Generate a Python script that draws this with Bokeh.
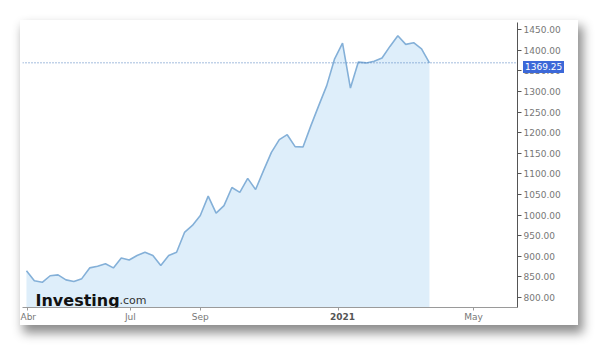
import pandas as pd
from bokeh.plotting import figure
from bokeh.layouts import column
from bokeh.models import (Range1d, FixedTicker, Span, Label, Div,
                          NumeralTickFormatter)
from bokeh.embed import file_html
from bokeh.resources import INLINE

# ---- data (weekly closes) ----
start_date = "2020-03-31"
values = [865, 841, 837, 853, 855, 843, 839, 846, 872, 876,
          882, 872, 896, 891, 902, 910, 902, 878, 902, 910,
          958, 975, 999, 1046, 1005, 1023, 1067, 1055, 1089, 1062,
          1108, 1152, 1183, 1195, 1166, 1165, 1217, 1266, 1314, 1379,
          1417, 1308, 1371, 1369, 1373, 1381, 1409, 1435, 1414, 1418,
          1403, 1369.25]
dates = pd.date_range(start_date, periods=len(values), freq="7D")
last_value = values[-1]

x_tick_dates = ["2020-04-01", "2020-07-01", "2020-09-01", "2021-01-01", "2021-05-01"]
x_tick_labels = ["Abr", "Jul", "Sep", "", "May"]
year_label_date = "2021-01-01"
year_label = "2021"
y_ticks = [800, 850, 900, 950, 1000, 1050, 1100, 1150, 1200, 1250,
           1300, 1350, 1400, 1450]

def ms(d):
    return pd.Timestamp(d).value / 1e6

# layout geometry
OFF_X, OFF_Y = 20, 20          # card offset in the page
W, H = 558, 305                # card size
BL, BT, BR, BB = 2, 2, 61, 18  # borders around the frame
FW, FH = W - BL - BR, H - BT - BB

x0, x1 = ms("2020-03-27 12:00"), ms("2021-06-09")
y0, y1 = 776, 1467

p = figure(width=W, height=H, x_axis_type="datetime",
           x_range=Range1d(x0, x1), y_range=Range1d(y0, y1),
           y_axis_location="right",
           output_backend="svg", toolbar_location=None,
           min_border_left=BL, min_border_top=BT, min_border_right=BR,
           min_border_bottom=BB, margin=(OFF_Y, 0, 0, OFF_X))
p.styles = {"box-shadow": "4px 7px 10px 1px rgba(0,0,0,0.45)",
            "background": "white"}
p.xgrid.visible = False
p.ygrid.visible = False
p.outline_line_color = None
p.background_fill_color = "white"
p.border_fill_color = "white"

# area + line
p.varea(x=dates, y1=0, y2=values, fill_color="#deeefa", fill_alpha=1.0)
p.line(x=dates, y=values, line_color="#84b0d8", line_width=1.6)

# last value dotted line
p.add_layout(Span(location=last_value, dimension="width",
                  line_color="#4a7bbd", line_width=1, line_dash="1 2"))

# x axis
xa = p.xaxis[0]
tick_ms = [ms(d) for d in x_tick_dates]
xa.ticker = FixedTicker(ticks=tick_ms)
xa.major_label_overrides = {t: l for t, l in zip(tick_ms, x_tick_labels)}
xa.axis_line_color = "#9a9a9a"
xa.major_tick_line_color = "#9a9a9a"
xa.major_tick_in = 0
xa.major_tick_out = 3
xa.minor_tick_line_color = None
xa.major_label_standoff = 1
xa.major_label_text_font = "DejaVu Sans"
xa.major_label_text_font_size = "9px"
xa.major_label_text_color = "#777777"

# y axis (right)
ya = p.yaxis[0]
ya.ticker = FixedTicker(ticks=y_ticks)
ya.formatter = NumeralTickFormatter(format="0.00")
ya.axis_line_color = "#555555"
ya.major_tick_line_color = "#555555"
ya.major_tick_in = 0
ya.major_tick_out = 4
ya.minor_tick_line_color = None
ya.major_label_standoff = 2
ya.major_label_text_font = "DejaVu Sans"
ya.major_label_text_font_size = "9px"
ya.major_label_text_color = "#777777"

# logo
p.add_layout(Label(x=13, y=7, x_units="screen", y_units="screen",
                   text="Investing", text_font="DejaVu Sans",
                   text_font_size="16px", text_font_style="bold",
                   text_color="#111111", text_baseline="alphabetic"))
p.add_layout(Label(x=97, y=7, x_units="screen", y_units="screen",
                   text=".com", text_font="DejaVu Sans",
                   text_font_size="11px", text_color="#333333",
                   text_baseline="alphabetic"))

# pixel positions derived from the scales
tag_cy = OFF_Y + BT + (y1 - last_value) / (y1 - y0) * FH
year_cx = OFF_X + BL + (ms(year_label_date) - x0) / (x1 - x0) * FW

tag = Div(text=f"{last_value:.2f}",
          styles={"position": "absolute", "left": f"{OFF_X + BL + FW + 1}px",
                  "top": f"{tag_cy - 6:.1f}px", "background": "#3c68d8",
                  "color": "white", "font-family": "DejaVu Sans",
                  "font-size": "9px", "line-height": "12px",
                  "padding": "0 2px", "z-index": "10"})
year = Div(text=year_label, width=40,
           styles={"position": "absolute", "left": f"{year_cx - 20:.1f}px",
                   "top": f"{OFF_Y + BT + FH - 1}px", "text-align": "center",
                   "color": "#555555", "font-family": "DejaVu Sans",
                   "font-weight": "bold", "font-size": "9px",
                   "line-height": "12px", "z-index": "10"})

root = column(p, tag, year, styles={"position": "relative"})
open("out.html", "w").write(file_html(root, INLINE))
